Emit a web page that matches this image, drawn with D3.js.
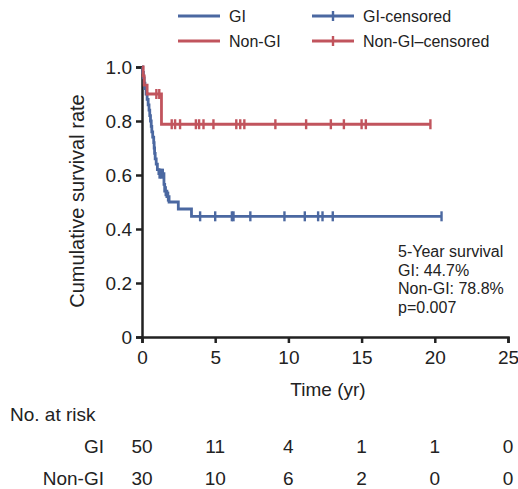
<!DOCTYPE html>
<html>
<head>
<meta charset="utf-8">
<script src="https://cdn.jsdelivr.net/npm/d3@7"></script>
<style>
  body { margin: 0; background: #fff; }
  svg text { font-family: "Liberation Sans", Arial, sans-serif; fill: #222; }
</style>
</head>
<body>
<svg width="518" height="489"></svg>
<script>
// survival curve steps: time (yr) at which the curve drops, and the value after it
const giStepTimes = [0.05, 0.1, 0.15, 0.2, 0.28, 0.35, 0.42, 0.48, 0.53, 0.58, 0.63, 0.67, 0.73, 0.8, 0.83, 0.86, 0.9, 0.97, 1.05, 1.15, 1.5, 1.55, 1.7, 1.85, 2.48, 3.38];
const giStepValues = [0.98, 0.96, 0.94, 0.92, 0.9, 0.88, 0.86, 0.84, 0.82, 0.8, 0.78, 0.76, 0.74, 0.72, 0.7, 0.68, 0.66, 0.64, 0.62, 0.605, 0.565, 0.54, 0.52, 0.5, 0.474, 0.447];
const giCensored = [1.2, 1.3, 1.42, 1.62, 1.78, 3.97, 5.0, 6.14, 6.25, 7.4, 9.73, 11.12, 12.03, 12.33, 13.03, 20.46];

const nonGiStepTimes = [0.08, 0.15, 0.35, 1.33];
const nonGiStepValues = [0.967, 0.933, 0.9, 0.788];
const nonGiCensored = [0.98, 1.18, 2.03, 2.26, 2.6, 3.68, 3.9, 4.2, 4.88, 6.44, 6.71, 6.99, 9.11, 11.21, 12.9, 13.79, 15.0, 15.29, 19.7];

const xTicks = [0, 5, 10, 15, 20, 25];
const yTicks = [0, 0.2, 0.4, 0.6, 0.8, 1.0];
const riskGroups = ['GI', 'Non-GI'];
const riskGI = [50, 11, 4, 1, 1, 0];
const riskNonGI = [30, 10, 6, 2, 0, 0];
const noteLines = ['5-Year survival', 'GI: 44.7%', 'Non-GI: 78.8%', 'p=0.007'];

const blue = '#4b68a1';
const red = '#c1545d';

const svg = d3.select('svg');
const x = d3.scaleLinear().domain([0, 25]).range([142, 508]);
const y = d3.scaleLinear().domain([0, 1]).range([337, 67]);

// axes
const yAxis = svg.append('g')
  .attr('transform', 'translate(142,0)')
  .call(d3.axisLeft(y).tickValues(yTicks).tickSize(6).tickPadding(4)
    .tickFormat(d => d === 0 ? '0' : d3.format('.1f')(d)));
const xAxis = svg.append('g')
  .attr('transform', 'translate(0,337)')
  .call(d3.axisBottom(x).tickValues(xTicks).tickSize(6).tickPadding(8));
[xAxis, yAxis].forEach(a => {
  a.select('.domain').attr('stroke', '#222').attr('stroke-width', 2.5);
  a.selectAll('.tick line').attr('stroke', '#222').attr('stroke-width', 2.5);
  a.selectAll('.tick text').attr('font-size', 19).attr('fill', '#222')
    .style('font-family', '"Liberation Sans", Arial, sans-serif');
});

svg.append('text')
  .attr('transform', 'translate(84,201) rotate(-90)')
  .attr('text-anchor', 'middle')
  .attr('font-size', 20)
  .text('Cumulative survival rate');

svg.append('text')
  .attr('x', 328).attr('y', 396)
  .attr('text-anchor', 'middle')
  .attr('font-size', 19)
  .text('Time (yr)');

// curves
function stepValue(times, values, t) {
  let v = 1;
  times.forEach((s, i) => { if (s <= t) v = values[i]; });
  return v;
}

function drawCurve(times, values, censored, colour) {
  const end = d3.max(censored);
  const pts = [[0, 1]].concat(times.map((t, i) => [t, values[i]]));
  pts.push([end, values[values.length - 1]]);
  const line = d3.line().x(d => x(d[0])).y(d => y(d[1])).curve(d3.curveStepAfter);
  svg.append('path')
    .attr('d', line(pts))
    .attr('fill', 'none')
    .attr('stroke', colour)
    .attr('stroke-width', 2.8);
  svg.append('g').selectAll('line')
    .data(censored)
    .enter().append('line')
    .attr('x1', d => x(d)).attr('x2', d => x(d))
    .attr('y1', d => y(stepValue(times, values, d)) - 5)
    .attr('y2', d => y(stepValue(times, values, d)) + 5)
    .attr('stroke', colour)
    .attr('stroke-width', 2.4);
}

drawCurve(giStepTimes, giStepValues, giCensored, blue);
drawCurve(nonGiStepTimes, nonGiStepValues, nonGiCensored, red);

// note
svg.append('text')
  .attr('font-size', 16)
  .selectAll('tspan')
  .data(noteLines)
  .enter().append('tspan')
  .attr('x', 398)
  .attr('y', (d, i) => 257 + i * 18.5)
  .text(d => d);

// legend
const legend = [
  { label: 'GI', colour: blue, tick: false, lx: 178, ly: 16 },
  { label: 'Non-GI', colour: red, tick: false, lx: 178, ly: 41 },
  { label: 'GI-censored', colour: blue, tick: true, lx: 312, ly: 16 },
  { label: 'Non-GI\u2013censored', colour: red, tick: true, lx: 312, ly: 41 }
];
const lg = svg.append('g').selectAll('g')
  .data(legend)
  .enter().append('g')
  .attr('transform', d => `translate(${d.lx},${d.ly})`);
lg.append('line')
  .attr('x1', 0).attr('x2', 42)
  .attr('stroke', d => d.colour)
  .attr('stroke-width', 2.8);
lg.filter(d => d.tick).append('line')
  .attr('x1', 21).attr('x2', 21).attr('y1', -5).attr('y2', 5)
  .attr('stroke', d => d.colour)
  .attr('stroke-width', 2.4);
lg.append('text')
  .attr('x', 51).attr('y', 6)
  .attr('font-size', 16)
  .text(d => d.label);

// number at risk
svg.append('text')
  .attr('x', 10).attr('y', 421)
  .attr('font-size', 19)
  .text('No. at risk');

[riskGI, riskNonGI].forEach((row, r) => {
  const yy = 453 + r * 32;
  svg.append('text')
    .attr('x', 104).attr('y', yy)
    .attr('text-anchor', 'end')
    .attr('font-size', 19)
    .text(riskGroups[r]);
  svg.append('g').selectAll('text')
    .data(row)
    .enter().append('text')
    .attr('x', (d, i) => x(xTicks[i]))
    .attr('y', yy)
    .attr('text-anchor', 'middle')
    .attr('font-size', 19)
    .text(d => d);
});
</script>
</body>
</html>
